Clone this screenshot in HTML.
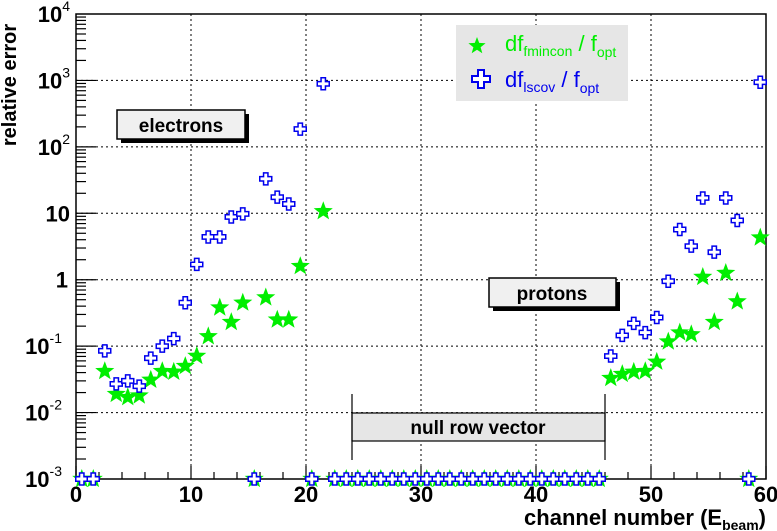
<!DOCTYPE html>
<html><head><meta charset="utf-8"><style>
body{margin:0;background:#fff}
svg{display:block;font-family:"Liberation Sans",Arial,sans-serif}
</style></head><body>
<svg id="chart" width="777" height="531" viewBox="0 0 777 531" xmlns="http://www.w3.org/2000/svg">
<rect x="0" y="0" width="777" height="531" fill="#fff"/>
<g id="grid"></g>
<g id="axes"></g>
<g>
<rect x="121" y="114" width="128" height="29" fill="#000"/>
<rect x="117" y="110" width="128" height="29" fill="#f0f0f0" stroke="#000" stroke-width="1.5"/>
<text x="181" y="132" text-anchor="middle" font-size="19" font-weight="bold">electrons</text>
</g>
<g>
<rect x="493" y="282" width="127" height="29" fill="#000"/>
<rect x="489" y="278" width="127" height="29" fill="#f0f0f0" stroke="#000" stroke-width="1.5"/>
<text x="552" y="300" text-anchor="middle" font-size="19" font-weight="bold">protons</text>
</g>
<g>
<rect x="352" y="413" width="253" height="28" fill="#e6e6e6" stroke="#000" stroke-width="1.2"/>
<line x1="352" y1="394" x2="352" y2="460" stroke="#000" stroke-width="1.2"/>
<line x1="605" y1="394" x2="605" y2="460" stroke="#000" stroke-width="1.2"/>
<text x="478" y="434" text-anchor="middle" font-size="19" font-weight="bold">null row vector</text>
</g>
<g id="marks"></g>
<g>
<rect x="456" y="25" width="172" height="76" fill="#e6e6e6"/>
<g>
<polygon id="legStar" fill="#00ee00"/>
<text x="505" y="51" fill="#00ee00" font-size="22">df<tspan font-size="14" dy="5">fmincon</tspan><tspan dy="-5"> / f</tspan><tspan font-size="14" dy="6">opt</tspan></text>
</g>
<g>
<path d="M474 76h6v-6h6v6h6v6h-6v6h-6v-6h-6z" fill="#fff" stroke="#0000ee" stroke-width="2" transform="translate(-2,0)"/>
<text x="505" y="87" fill="#0000ee" font-size="22">df<tspan font-size="14" dy="5">lscov</tspan><tspan dy="-5"> / f</tspan><tspan font-size="14" dy="6">opt</tspan></text>
</g>
</g>
<text transform="translate(16,85) rotate(-90)" text-anchor="middle" font-size="20" font-weight="bold">relative error</text>
<text x="766" y="525" text-anchor="end" font-size="22" font-weight="bold">channel number (E<tspan font-size="14" dy="5">beam</tspan><tspan dy="-5">)</tspan></text>
</svg>
<script>
const channels = [0,1,2,3,4,5,6,7,8,9,10,11,12,13,14,15,16,17,18,19,20,21,22,23,24,25,26,27,28,29,30,31,32,33,34,35,36,37,38,39,40,41,42,43,44,45,46,47,48,49,50,51,52,53,54,55,56,57,58,59];
const fminconValues = [0.001,0.001,0.042,0.019,0.017,0.018,0.031,0.042,0.041,0.05,0.071,0.14,0.38,0.23,0.45,0.001,0.54,0.25,0.25,1.6,0.001,10.7,
0.001,0.001,0.001,0.001,0.001,0.001,0.001,0.001,0.001,0.001,0.001,0.001,0.001,0.001,0.001,0.001,0.001,0.001,0.001,0.001,0.001,0.001,0.001,0.001,
0.033,0.038,0.041,0.042,0.058,0.117,0.16,0.15,1.1,0.23,1.26,0.47,0.001,4.3];
const lscovValues = [0.001,0.001,0.085,0.027,0.03,0.025,0.066,0.1,0.13,0.45,1.7,4.4,4.4,8.8,9.8,0.001,33,17.5,13.8,185,0.001,890,
0.001,0.001,0.001,0.001,0.001,0.001,0.001,0.001,0.001,0.001,0.001,0.001,0.001,0.001,0.001,0.001,0.001,0.001,0.001,0.001,0.001,0.001,0.001,0.001,
0.071,0.145,0.22,0.16,0.27,0.95,5.7,3.2,17,2.6,17,7.8,0.001,940];
const xTicks = [0,10,20,30,40,50,60];
const yExps = [-3,-2,-1,0,1,2,3,4];
const yTickLabels = ["10","10","10","1","10","10","10","10"];
const yTickSups = ["-3","-2","-1","","","2","3","4"];

const L=76,R=766,T=14,B=479;
const xs = v => L + (v-0)/(60-0)*(R-L);
const ys = v => B - (Math.log10(v)+3)/7*(B-T);
const NS="http://www.w3.org/2000/svg";
function mk(tag, attrs, parent){const e=document.createElementNS(NS,tag);for(const k in attrs)e.setAttribute(k,attrs[k]);parent.appendChild(e);return e;}
const grid=document.getElementById('grid'), axes=document.getElementById('axes'), marks=document.getElementById('marks');

xTicks.forEach(t=>{ if(t>0&&t<60){const g=mk('line',{x1:xs(t),x2:xs(t),y1:T,y2:B,stroke:'#000','stroke-dasharray':'2,3','stroke-width':1},grid);

}});
yExps.forEach(e=>{ if(e>-3&&e<4){const g=mk('line',{x1:L,x2:R,y1:ys(Math.pow(10,e)),y2:ys(Math.pow(10,e)),stroke:'#000','stroke-dasharray':'2,3','stroke-width':1},grid);

}});

const frame=mk('rect',{x:L,y:T,width:R-L,height:B-T,fill:'none',stroke:'#000','stroke-width':1.5},axes);


for(let t=0;t<=60;t+=2){const maj=t%10===0;mk('line',{x1:xs(t),x2:xs(t),y1:B,y2:B-(maj?13:7),stroke:'#000','stroke-width':1.2},axes);}
xTicks.forEach(t=>{const tx=mk('text',{x:xs(t),y:B+23,'text-anchor':'middle','font-size':22,'font-weight':'bold'},axes);tx.textContent=t;

});
for(let e=-3;e<4;e++){for(let m=1;m<10;m++){const y=ys(m*Math.pow(10,e));mk('line',{x1:L,x2:L+(m===1?20:10),y1:y,y2:y,stroke:'#000','stroke-width':1.2},axes);}}
yExps.forEach((e,i)=>{const y=ys(Math.pow(10,e));const tx=mk('text',{x:yTickSups[i]===''&&yTickLabels[i]!=='10'?68:70-(yTickSups[i].length>1?8:0),y:y+8,'text-anchor':'end','font-size':22,'font-weight':'bold'},axes);
tx.textContent=yTickLabels[i];
if(yTickSups[i]!==''){const s=mk('tspan',{'font-size':14,dy:-11,'font-weight':'normal'},tx);s.textContent=yTickSups[i];}

});

function starPts(cx,cy,r){let p=[];for(let k=0;k<10;k++){const a=-Math.PI/2+k*Math.PI/5;const rr=k%2?r*0.42:r;p.push((cx+rr*Math.cos(a)).toFixed(1)+','+(cy+rr*Math.sin(a)).toFixed(1));}return p.join(' ');}
document.getElementById('legStar').setAttribute('points',starPts(477,46,9));
function cross(cx,cy){const a=2.2,b=6;return `M${cx-a} ${cy-b}h${2*a}v${b-a}h${b-a}v${2*a}h${a-b}v${b-a}h${-2*a}v${a-b}h${a-b}v${-2*a}h${b-a}z`;}
channels.forEach((c,i)=>{
  const cx=xs(c+0.5);
  const s=mk('polygon',{points:starPts(cx,ys(fminconValues[i]),10),fill:'#00ee00'},marks);
  
  
});
channels.forEach((c,i)=>{
  const cx=xs(c+0.5);
  const p=mk('path',{d:cross(cx,ys(lscovValues[i])),fill:'#fff',stroke:'#0000ee','stroke-width':1.5},marks);
  
  
});
</script>
</body></html>
